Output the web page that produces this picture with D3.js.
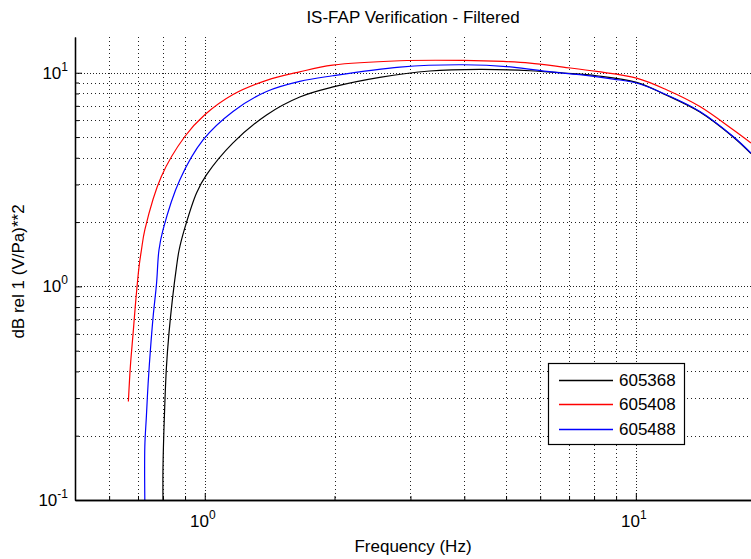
<!DOCTYPE html>
<html>
<head>
<meta charset="utf-8">
<script src="https://cdn.jsdelivr.net/npm/d3@7"></script>
<style>
  html, body { margin: 0; padding: 0; background: #fff; }
  svg { display: block; }
  text { font-family: Arial, "Liberation Sans", sans-serif; fill: #000; }
</style>
</head>
<body>
<svg id="chart" width="751" height="559"></svg>
<script>
// ---- data ----
const seriesNames = ["605368", "605408", "605488"];
const seriesColors = ["#000000", "#ff0000", "#0000ff"];

const freq605368 = [0.80, 0.80, 0.808, 0.815, 0.826, 0.841, 0.860, 0.872, 0.899, 0.957, 1.009, 1.163, 1.391, 1.661, 1.985, 2.547, 3.327, 4.35, 5.68, 6.78, 8.11, 10.04, 11.78, 14.08, 16.82, 18.5];
const val605368  = [0.1, 0.141, 0.284, 0.421, 0.604, 0.865, 1.238, 1.48, 1.877, 2.737, 3.323, 4.692, 6.345, 7.70, 8.58, 9.51, 10.19, 10.36, 10.22, 9.97, 9.68, 9.01, 7.85, 6.55, 5.0, 4.18];

const freq605408 = [0.665, 0.672, 0.682, 0.692, 0.704, 0.713, 0.726, 0.793, 0.899, 1.0, 1.163, 1.391, 1.661, 1.98, 2.835, 3.975, 4.92, 5.68, 6.78, 8.11, 10.04, 11.78, 14.08, 16.82, 18.5];
const val605408  = [0.289, 0.421, 0.604, 0.865, 1.238, 1.48, 1.84, 3.27, 5.03, 6.36, 7.91, 9.21, 10.1, 10.85, 11.38, 11.42, 11.3, 11.1, 10.63, 10.14, 9.44, 8.33, 6.95, 5.41, 4.69];

const freq605488 = [0.726, 0.726, 0.732, 0.739, 0.748, 0.759, 0.773, 0.783, 0.800, 0.875, 0.991, 1.163, 1.391, 1.661, 1.98, 2.835, 3.975, 5.18, 6.21, 7.41, 8.86, 10.04, 11.78, 14.08, 16.82, 18.5];
const val605488  = [0.1, 0.178, 0.245, 0.352, 0.504, 0.722, 1.035, 1.48, 1.84, 3.15, 4.85, 6.59, 8.17, 9.11, 9.68, 10.63, 10.9, 10.63, 10.14, 9.79, 9.34, 8.95, 7.89, 6.59, 5.03, 4.21];

const xMajorTicks = [1, 10];
const xMinorTicks = [0.6, 0.7, 0.8, 0.9, 2, 3, 4, 5, 6, 7, 8, 9];
const yMajorTicks = [0.1, 1, 10];
const yMinorTicks = [0.2, 0.3, 0.4, 0.5, 0.6, 0.7, 0.8, 0.9, 2, 3, 4, 5, 6, 7, 8, 9];
const xTickExponents = ["0", "1"];
const yTickExponents = ["-1", "0", "1"];

const titleText = "IS-FAP Verification - Filtered";
const xLabelText = "Frequency (Hz)";
const yLabelText = "dB rel 1 (V/Pa)**2";

// ---- layout ----
const pL = 75, pR = 751, pT = 37, pB = 500;
const svg = d3.select("#chart");

const x = d3.scaleLog().domain([0.5, 18.5]).range([pL, pR]);
const y = d3.scaleLog().domain([0.1, 14.7]).range([pB, pT]);

svg.append("defs").append("clipPath").attr("id", "plotclip")
  .append("rect").attr("x", pL).attr("y", pT).attr("width", pR - pL).attr("height", pB - pT);

const px = v => Math.round(v) + 0.5;

// grid
const grid = svg.append("g").attr("class", "grid");
grid.selectAll("line.vminor").data(xMinorTicks).join("line").attr("class", "vminor")
  .attr("x1", d => px(x(d))).attr("x2", d => px(x(d))).attr("y1", pT).attr("y2", pB)
  .attr("stroke-dasharray", "1,3");
grid.selectAll("line.vmajor").data(xMajorTicks).join("line").attr("class", "vmajor")
  .attr("x1", d => px(x(d))).attr("x2", d => px(x(d))).attr("y1", pT).attr("y2", pB)
  .attr("stroke-dasharray", "1,2");
grid.selectAll("line.hminor").data(yMinorTicks).join("line").attr("class", "hminor")
  .attr("x1", pL).attr("x2", pR).attr("y1", d => px(y(d))).attr("y2", d => px(y(d)))
  .attr("stroke-dasharray", "1,3");
grid.selectAll("line.hmajor").data(yMajorTicks.filter(d => d > 0.1)).join("line").attr("class", "hmajor")
  .attr("x1", pL).attr("x2", pR).attr("y1", d => px(y(d))).attr("y2", d => px(y(d)))
  .attr("stroke-dasharray", "1,2");
grid.selectAll("line").attr("stroke", "#222").attr("stroke-width", 1);

// series
const series = [
  { name: seriesNames[0], color: seriesColors[0], f: freq605368, v: val605368 },
  { name: seriesNames[1], color: seriesColors[1], f: freq605408, v: val605408 },
  { name: seriesNames[2], color: seriesColors[2], f: freq605488, v: val605488 }
];
const line = d3.line().x(d => x(d[0])).y(d => y(d[1])).curve(d3.curveCatmullRom.alpha(0.5));
svg.append("g").attr("clip-path", "url(#plotclip)")
  .selectAll("path").data(series).join("path")
  .attr("d", s => line(s.f.map((f, i) => [f, s.v[i]])))
  .attr("fill", "none").attr("stroke", s => s.color).attr("stroke-width", 1.2);

// axes
const xAxisMinor = d3.axisBottom(x).tickValues(xMinorTicks).tickSize(-4).tickFormat("").tickSizeOuter(0);
const xAxisMajor = d3.axisBottom(x).tickValues(xMajorTicks).tickSize(-7).tickFormat("").tickSizeOuter(0);
const yAxisMinor = d3.axisLeft(y).tickValues(yMinorTicks).tickSize(-4).tickFormat("").tickSizeOuter(0);
const yAxisMajor = d3.axisLeft(y).tickValues(yMajorTicks).tickSize(-7).tickFormat("").tickSizeOuter(0);

function styleAxis(g) {
  g.select(".domain").attr("stroke", "#000").attr("stroke-width", 1.3);
  g.selectAll(".tick line").attr("stroke", "#000").attr("stroke-width", 1);
}
svg.append("g").attr("transform", `translate(0,${pB})`).call(xAxisMinor).call(styleAxis);
svg.append("g").attr("transform", `translate(0,${pB})`).call(xAxisMajor).call(styleAxis);
svg.append("g").attr("transform", `translate(${pL},0)`).call(yAxisMinor).call(styleAxis);
svg.append("g").attr("transform", `translate(${pL},0)`).call(yAxisMajor).call(styleAxis);

// tick labels (10^n)
const xl = svg.append("g").selectAll("text").data(xMajorTicks).join("text")
  .attr("x", d => x(d) - 2).attr("y", pB + 27).attr("text-anchor", "middle")
  .attr("font-size", 17);
xl.append("tspan").text("10");
xl.append("tspan").attr("dy", -8).attr("font-size", 12).text((d, i) => xTickExponents[i]);

const yl = svg.append("g").selectAll("text").data(yMajorTicks).join("text")
  .attr("x", pL - 7).attr("y", d => y(d) + 6).attr("text-anchor", "end")
  .attr("font-size", 17);
yl.append("tspan").text("10");
yl.append("tspan").attr("dy", -8).attr("font-size", 12).text((d, i) => yTickExponents[i]);

// title and labels
svg.append("text").attr("x", (pL + pR) / 2).attr("y", 23).attr("text-anchor", "middle")
  .attr("font-size", 17).text(titleText);
svg.append("text").attr("x", (pL + pR) / 2).attr("y", 552).attr("text-anchor", "middle")
  .attr("font-size", 17).text(xLabelText);
svg.append("text").attr("transform", `translate(24,${(pT + pB) / 2 + 3}) rotate(-90)`)
  .attr("text-anchor", "middle").attr("font-size", 17).text(yLabelText);

// legend
const lg = svg.append("g").attr("transform", "translate(548,363)");
lg.append("rect").attr("x", 0.5).attr("y", 0.5).attr("width", 136).attr("height", 81)
  .attr("fill", "#fff").attr("stroke", "#000").attr("stroke-width", 1.2);
const rows = lg.selectAll("g.row").data(series).join("g").attr("class", "row")
  .attr("transform", (d, i) => `translate(0,${[17, 41, 66][i]})`);
rows.append("line").attr("x1", 11).attr("x2", 65).attr("y1", 0.5).attr("y2", 0.5)
  .attr("stroke", d => d.color).attr("stroke-width", 1.6);
rows.append("text").attr("x", 71).attr("y", 6).attr("font-size", 17).text(d => d.name);
</script>
</body>
</html>
